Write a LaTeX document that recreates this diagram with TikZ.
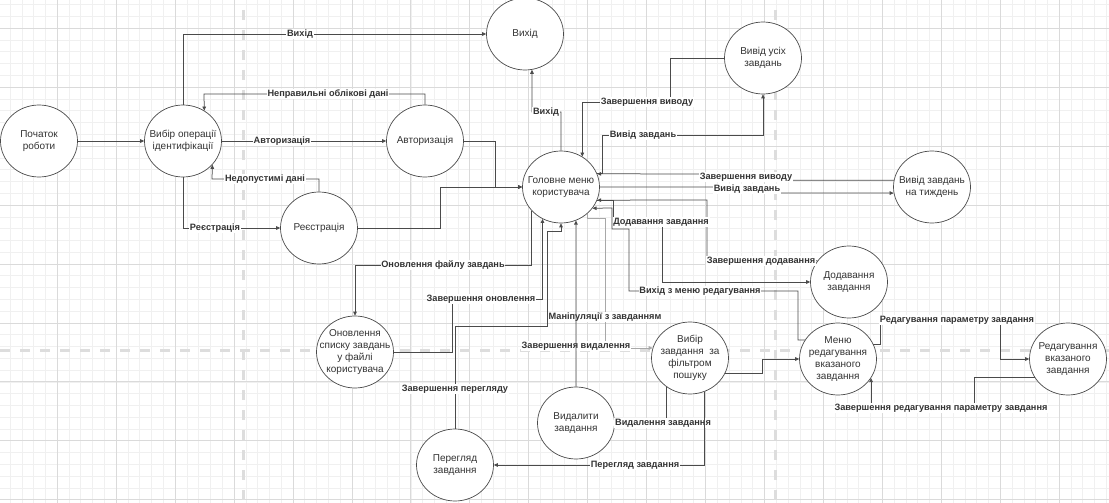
\documentclass[tikz,border=0pt]{standalone}
\usepackage{fontspec}
\setmainfont{Liberation Sans}
\usetikzlibrary{shapes.geometric,arrows.meta}
\definecolor{gridminor}{HTML}{F0F0F0}
\definecolor{gridmajor}{HTML}{DADADA}
\definecolor{guide}{HTML}{DDDDDD}
\definecolor{ink}{HTML}{4A4A4A}
\definecolor{inklight}{HTML}{A8A8A8}
\definecolor{txt}{HTML}{333333}
\begin{document}
\begin{tikzpicture}[x=1pt,y=-1pt,
  proc/.style={ellipse, draw=ink, line width=0.7pt, fill=white,
    minimum width=77pt, minimum height=72pt, inner sep=0pt},
  ptext/.style={align=center, font=\fontsize{10}{12}\selectfont, text=txt, inner sep=0pt},
  flow/.style={draw=ink, line width=0.75pt, -{Triangle[length=4pt,width=3.6pt]}},
  flowlight/.style={flow, draw=inklight},
  lbl/.style={fill=white, inner sep=0.8pt, font=\fontsize{9.2}{10}\selectfont\bfseries, text=txt},
  guideline/.style={draw=guide, line width=3pt, dash pattern=on 10pt off 10pt},
]
\useasboundingbox (0,0) rectangle (1109,503);

% background grid
\begin{scope}
  \clip (0,0) rectangle (1109,503);
  \fill[white] (0,0) rectangle (1109,503);
  \foreach \i in {0,...,95}
    \draw[gridminor, line width=0.8pt] ({-1.64+11.788*\i},0) -- ++(0,503);
  \foreach \j in {0,...,46}
    \draw[gridminor, line width=0.8pt] (0,{-30.64+11.788*\j}) -- ++(1109,0);
  \foreach \i in {0,...,19}
    \draw[gridmajor, line width=1pt] ({-1.64+58.94*\i},0) -- ++(0,503);
  \foreach \j in {0,...,9}
    \draw[gridmajor, line width=1pt] (0,{-30.64+58.94*\j}) -- ++(1109,0);
\end{scope}

% dashed guides
\draw[guideline] (243,10) -- (243,503);
\draw[guideline] (775,10) -- (775,503);
\draw[guideline] (0,350) -- (1109,350);

% processes
\node[proc, label={[ptext]center:Початок\\роботи}] (start) at (39,141) {};
\node[proc, label={[ptext]center:Вибір операції\\ідентифікації}] (choice) at (183,141) {};
\node[proc, label={[ptext]center:Вихід}] (exit) at (525,34) {};
\node[proc, label={[ptext]center:Авторизація}] (auth) at (425,141) {};
\node[proc, label={[ptext]center:Реєстрація}] (reg) at (319,228) {};
\node[proc, label={[ptext]center:Головне меню\\користувача}] (menu) at (561,187) {};
\node[proc, label={[ptext]center:Вивід усіх\\завдань}] (all) at (763,58) {};
\node[proc, label={[ptext]center:Вивід завдань\\на тиждень}] (week) at (932,187) {};
\node[proc, label={[ptext]center:Додавання\\завдання}] (add) at (849,282) {};
\node[proc, label={[ptext]center:Меню\\редагування\\вказаного\\завдання}] (edit) at (838,359) {};
\node[proc, label={[ptext]center:Редагування\\вказаного\\завдання}] (editp) at (1068,359) {};
\node[proc, label={[ptext]center:Вибір\\завдання\ \ за\\фільтром\\пошуку}] (filter) at (690,358) {};
\node[proc, label={[ptext]center:Видалити\\завдання}] (del) at (576,423) {};
\node[proc, label={[ptext]center:Перегляд\\завдання}] (view) at (455,465) {};
\node[proc, label={[ptext]center:Оновлення\\списку завдань\\у файлі\\користувача}] (upd) at (355,352) {};

% identification
\draw[flow] (start) -- (choice);
\draw[flow] (choice.north) |- (exit.west);
\node[lbl] at (300,34) {Вихід};
\draw[flow] (auth.north) |- (204,94) -- (choice.55);
\node[lbl] at (328,94) {Неправильні облікові дані};
\draw[flow] (choice) -- (auth);
\node[lbl] at (282,141) {Авторизація};
\draw[flow] (reg.north) |- (212,179) -- (choice.-39);
\node[lbl] at (265,179) {Недопустимі дані};
\draw[flow] (choice.south) |- (reg.west);
\node[lbl] at (215,228) {Реєстрація};
\draw[flow] (auth.east) -| (495,187) -- (menu.west);
\draw[flow] (reg.east) -| (440,187) -- (menu.west);

% main menu: output
\draw[flow] (menu.north) |- (532,112) -- (exit.-79);
\node[lbl] at (546,112) {Вихід};
\draw[flow] (all.west) -| (670,102) -| (menu.55);
\node[lbl] at (647,102) {Завершення виводу};
\draw[flow] (menu.20) -| (602,135) -| (all.south);
\node[lbl] at (643,135) {Вивід завдань};
\draw[flow] (week.170) -| (746,174) -- (menu.20);
\node[lbl] at (746,177) {Завершення виводу};
\draw[flow] (menu.east) -| (747,193) -- (week.189);
\node[lbl] at (747,189) {Вивід завдань};

% main menu: adding and editing
\draw[flow] (add.146) -| (707,200) -- (menu.-20);
\node[lbl] at (761,261) {Завершення додавання};
\draw[flow] (menu.-20) -| (613,222) -- (662,222) |- (add.west);
\node[lbl] at (661,222) {Додавання завдання};
\draw[flow] (edit.150) -| (798,291) -| (629,229) -| (612,208) -- (menu.-34);
\node[lbl] at (700,291) {Вихід з меню редагування};

% main menu: file update and view
\draw[flow] (menu.219) |- (355,265) -- (upd.north);
\node[lbl] at (443,265) {Оновлення файлу завдань};
\draw[flow] (upd.east) -| (452,299) -| (menu.240);
\node[lbl] at (481,299) {Завершення оновлення};
\draw[flow] (view.north) |- (547,326) -- (547,231) -| (menu.south);
\node[lbl] at (455,389) {Завершення перегляду};

% task manipulation
\draw[flowlight] (menu.-45) |- (605,218) |- (filter.165);
\node[lbl] at (605,317) {Маніпуляції з завданням};
\node[lbl] at (576,346) {Завершення видалення};
\draw[flow] (del.north) -- (menu.-66);
\draw[flow] (filter.-23) -| (762,359) -- (edit.west);
\draw[flow] (filter.231) |- (del.east);
\node[lbl] at (663,423) {Видалення завдання};
\draw[flow] (filter.-67) |- (view.east);
\node[lbl] at (635,465) {Перегляд завдання};

% task editing
\draw[flow] (edit.23) -| (880,319) -| (1000,359) -- (editp.west);
\node[lbl] at (957,320) {Редагування параметру завдання};
\draw[flow] (editp.209) -| (974,408) -| (edit.-30);
\node[lbl] at (941,408) {Завершення редагування параметру завдання};
\end{tikzpicture}
\end{document}
